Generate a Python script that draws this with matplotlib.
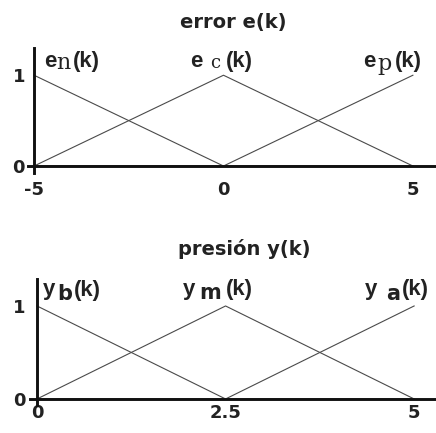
import matplotlib
matplotlib.use("Agg")
import matplotlib.pyplot as plt

plt.rcParams["font.family"] = "DejaVu Sans"
plt.rcParams["font.weight"] = "bold"

# membership functions: breakpoints and degree at each breakpoint
e_x = [-5, 0, 5]
e_n = [1, 0, 0]
e_c = [0, 1, 0]
e_p = [0, 0, 1]

y_x = [0, 2.5, 5]
y_b = [1, 0, 0]
y_m = [0, 1, 0]
y_a = [0, 0, 1]

e_ticks = [-5, 0, 5]
e_ticklabels = ["-5", "0", "5"]
y_ticks = [0, 2.5, 5]
y_ticklabels = ["0", "2.5", "5"]

text_color = "#222222"
line_color = "#4a4a4a"

W, H = 436, 433
fig = plt.figure(figsize=(W / 100, H / 100), dpi=100)
ax1 = fig.add_axes([28 / W, 1 - 173 / H, 408 / W, 125 / H])
ax2 = fig.add_axes([30 / W, 1 - 405 / H, 406 / W, 126 / H])


def style_axes(ax, x0, xlim, ylim, ticks, ticklabels, xpad, ypad):
    ax.set_xlim(*xlim)
    ax.set_ylim(*ylim)
    for s in ["top", "right"]:
        ax.spines[s].set_visible(False)
    ax.spines["left"].set_position(("data", x0))
    ax.spines["bottom"].set_position(("data", 0))
    for s in ["left", "bottom"]:
        ax.spines[s].set_linewidth(2.1)
        ax.spines[s].set_color("#111111")
    ax.set_xticks(ticks)
    ax.set_xticklabels(ticklabels)
    ax.set_yticks([0, 1])
    ax.set_yticklabels(["0", "1"])
    ax.tick_params(axis="x", length=0, pad=xpad, labelsize=13, labelcolor=text_color)
    ax.tick_params(axis="y", length=0, pad=ypad, labelsize=13, labelcolor=text_color)
    ax.patch.set_alpha(0)


ax1.plot(e_x, e_n, color=line_color, lw=0.8)
ax1.plot(e_x, e_c, color=line_color, lw=0.8)
ax1.plot(e_x, e_p, color=line_color, lw=0.8)
style_axes(ax1, -5, (-5.16, 5.61), (-0.077, 1.30), e_ticks, e_ticklabels, 10.5, 6.5)

ax2.plot(y_x, y_b, color=line_color, lw=0.8)
ax2.plot(y_x, y_m, color=line_color, lw=0.8)
ax2.plot(y_x, y_a, color=line_color, lw=0.8)
style_axes(ax2, 0, (-0.093, 5.29), (-0.065, 1.29), y_ticks, y_ticklabels, 3.5, 8.5)

# set labels, drawn piece by piece: (text, font, size, left px, baseline px)
main = ("Liberation Sans", 16)
serif = ("DejaVu Serif", 16)
serif_small = ("DejaVu Serif", 13)
sub = ("DejaVu Sans", 15)

set_labels = [
    [("e", main, 44, 67), ("n", serif, 56, 69), ("(k)", main, 73, 67)],
    [("e", main, 190, 67), ("c", serif_small, 210, 68), ("(k)", main, 226, 67)],
    [("e", main, 363, 67), ("p", serif, 377, 70), ("(k)", main, 395, 67)],
    [("y", main, 43, 295), ("b", sub, 57, 300), ("(k)", main, 74, 296)],
    [("y", main, 183, 295), ("m", sub, 199, 299), ("(k)", main, 226, 295)],
    [("y", main, 365, 295), ("a", sub, 386, 300), ("(k)", main, 402, 295)],
]
for pieces in set_labels:
    for s, (family, size), px, py in pieces:
        weight = "normal" if family == "DejaVu Serif" else "bold"
        fig.text(px / W, 1 - py / H, s, family=family, fontsize=size,
                 fontweight=weight, color=text_color, ha="left", va="baseline")

fig.text(233 / W, 1 - 28 / H, "error e(k)", ha="center", va="baseline",
         fontsize=14, color=text_color)
fig.text(244 / W, 1 - 255 / H, "presión y(k)", ha="center", va="baseline",
         fontsize=14, color=text_color)

fig.savefig("out.png", dpi=100)
